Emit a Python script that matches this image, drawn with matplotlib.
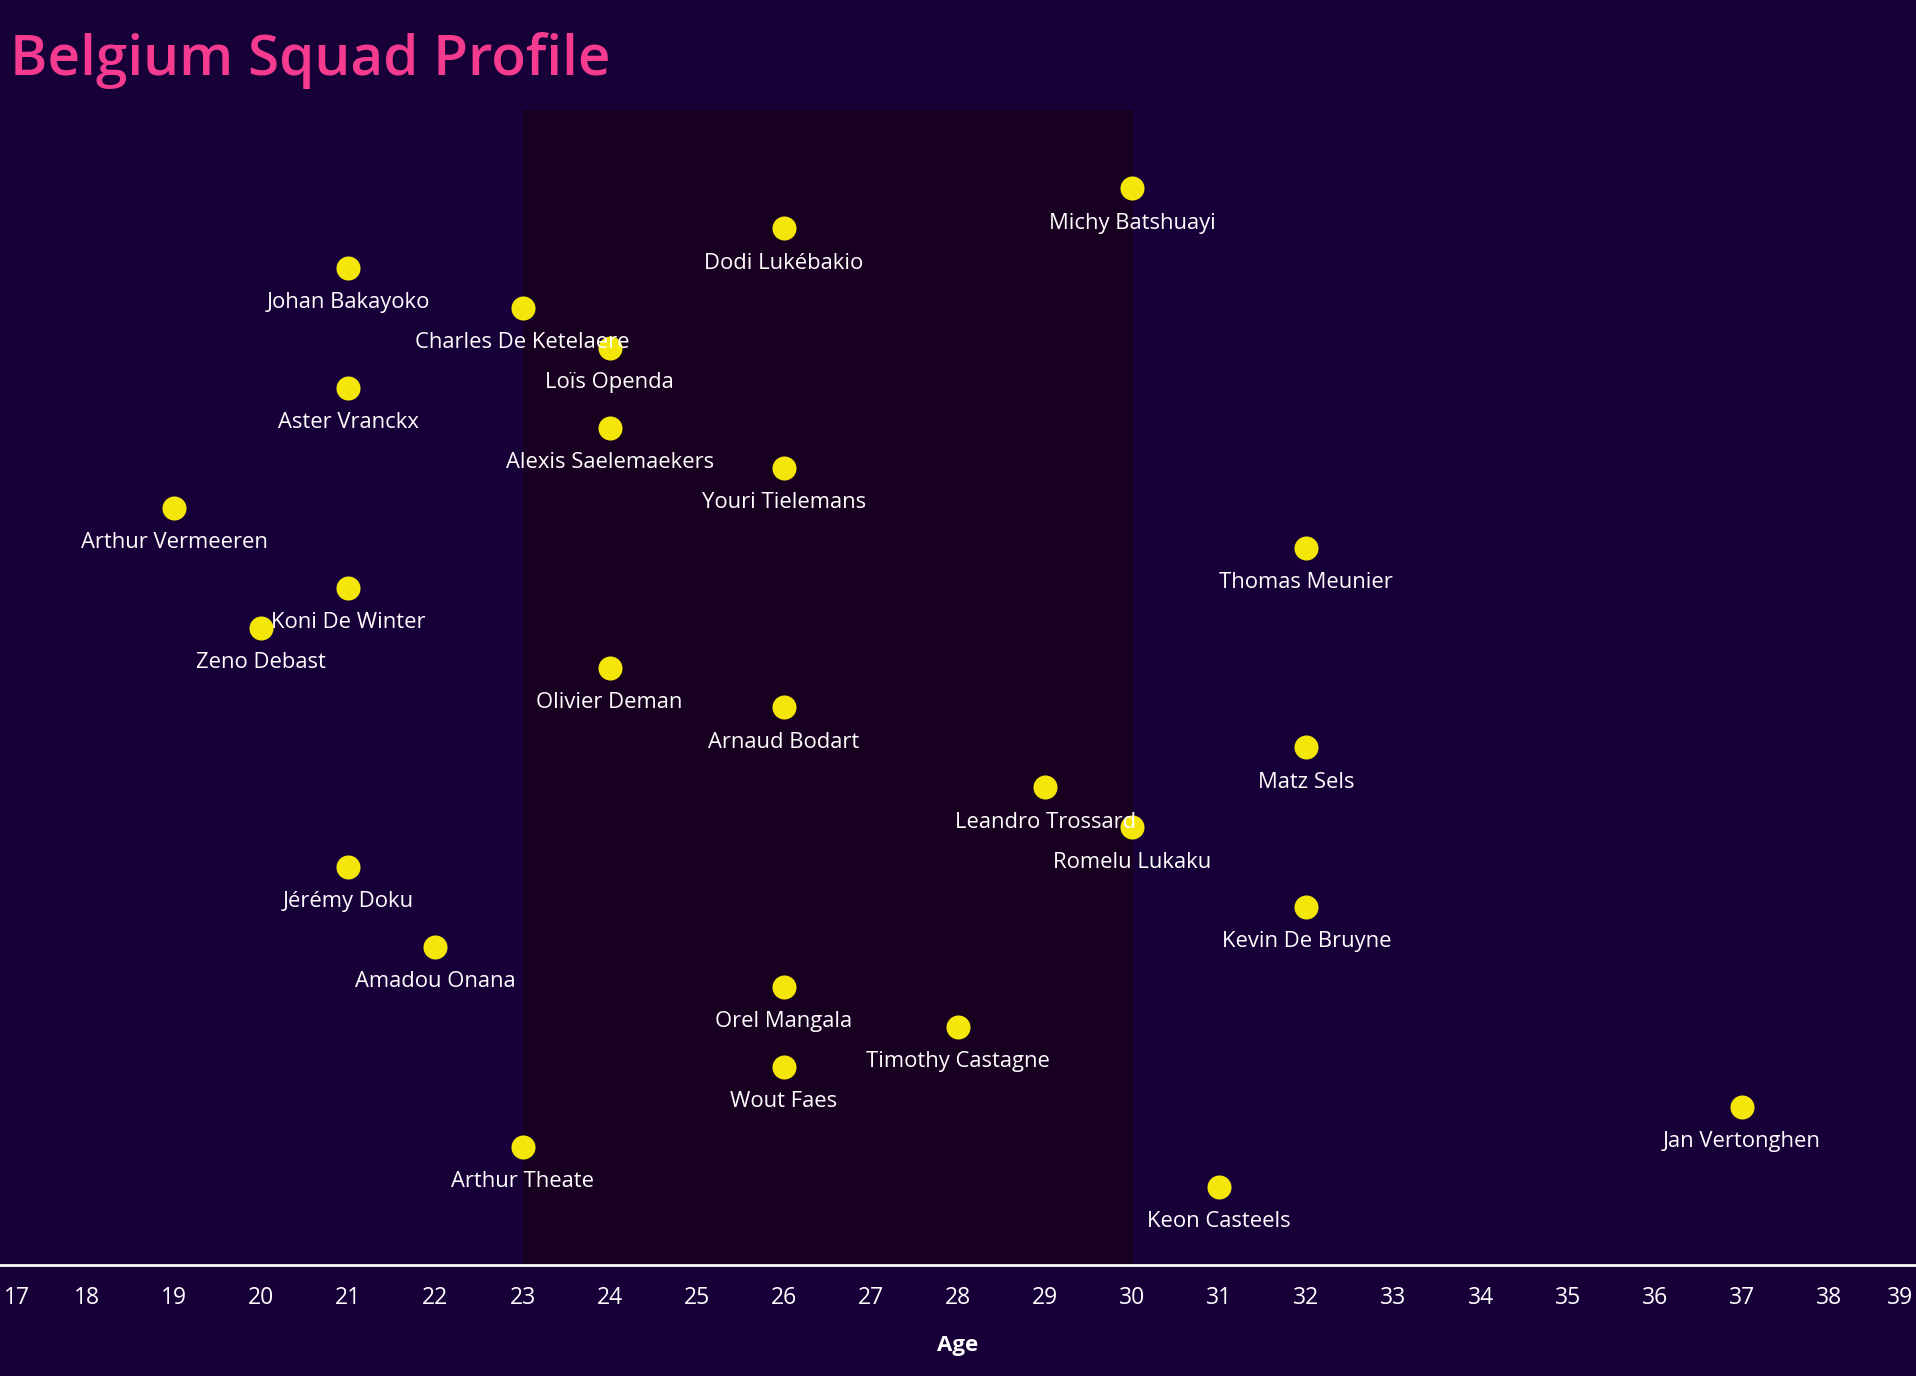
import matplotlib.pyplot as plt

# Datos de la plantilla (edad y nombre, en orden de arriba a abajo)
players = [
    "Michy Batshuayi", "Dodi Lukébakio", "Johan Bakayoko", "Charles De Ketelaere",
    "Loïs Openda", "Aster Vranckx", "Alexis Saelemaekers", "Youri Tielemans",
    "Arthur Vermeeren", "Thomas Meunier", "Koni De Winter", "Zeno Debast",
    "Olivier Deman", "Arnaud Bodart", "Matz Sels", "Leandro Trossard",
    "Romelu Lukaku", "Jérémy Doku", "Kevin De Bruyne", "Amadou Onana",
    "Orel Mangala", "Timothy Castagne", "Wout Faes", "Jan Vertonghen",
    "Arthur Theate", "Keon Casteels",
]
ages = [30, 26, 21, 23, 24, 21, 24, 26, 19, 32, 21, 20, 24, 26, 32, 29,
        30, 21, 32, 22, 26, 28, 26, 37, 23, 31]
rank = list(range(1, len(players) + 1))

peak_start, peak_end = 23, 30
age_ticks = list(range(17, 40))

bg = "#170038"
shade = "#180020"
dot = "#f5e60a"
pink = "#f53b8f"

plt.rcParams['font.family'] = ['Open Sans', 'DejaVu Sans']

fig = plt.figure(figsize=(19.16, 13.76), dpi=100, facecolor=bg)
ax = fig.add_axes([0.0, 0.0807, 1.0, 0.8393], facecolor=bg)

ax.axvspan(peak_start, peak_end, color=shade, zorder=0)
ax.scatter(ages, rank, s=300, color=dot, zorder=3, linewidths=0)

for a, r, name in zip(ages, rank, players):
    ax.annotate(name, (a, r), xytext=(0, -25), textcoords='offset points',
                ha='center', va='center', color='white', fontsize=15.8,
                fontweight='medium', zorder=4)

ax.set_xlim(17, 39)
ax.set_ylim(27.96, -0.96)
# las etiquetas de los extremos se dibujan aparte, dentro de la figura
tick_labels = [str(a) for a in age_ticks]
inner = tick_labels[:]
inner[0] = ''
inner[-1] = ''
ax.set_xticks(age_ticks, labels=inner)
ax.set_yticks([])
ax.tick_params(axis='x', length=0, pad=15, labelsize=16.5, colors='white')
for x, lab, ha, dx in [(age_ticks[0], tick_labels[0], 'left', 3),
                       (age_ticks[-1], tick_labels[-1], 'right', -2)]:
    ax.annotate(lab, xy=(x, 0), xycoords=('data', 'axes fraction'),
                xytext=(dx, -15), textcoords='offset points', ha=ha, va='top',
                color='white', fontsize=16.5)
for s in ['top', 'left', 'right']:
    ax.spines[s].set_visible(False)
ax.spines['bottom'].set_color('white')
ax.spines['bottom'].set_linewidth(2)
ax.set_xlabel('Age', color='white', fontsize=16, fontweight='bold', labelpad=18)

fig.text(0.005, 0.956, 'Belgium Squad Profile', color=pink, fontsize=40.8,
         fontweight='semibold', va='center', ha='left')

fig.savefig('out.png', dpi=100, facecolor=bg)
